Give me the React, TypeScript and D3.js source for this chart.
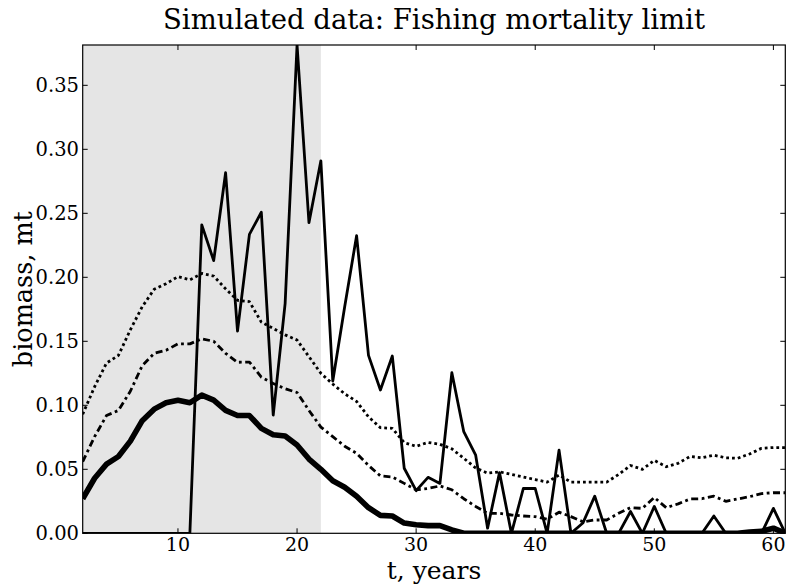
import React from "react";
import * as d3 from "d3";

const years = [2,3,4,5,6,7,8,9,10,11,12,13,14,15,16,17,18,19,20,21,22,23,24,25,26,27,28,29,30,31,32,33,34,35,36,37,38,39,40,41,42,43,44,45,46,47,48,49,50,51,52,53,54,55,56,57,58,59,60,61];

const realization = [0,0,0,0,0,0,0,0,0,0,0.241,0.213,0.2817,0.158,0.2336,0.2508,0.0924,0.1797,0.3815,0.2427,0.291,0.119,0.177,0.2325,0.139,0.112,0.1385,0.0508,0.0333,0.0437,0.039,0.1255,0.0794,0.061,0.004,0.0474,0,0.035,0.035,0,0.065,0,0.008,0.029,0,0,0.017,0,0.021,0,0,0,0,0.0135,0,0,0,0,0.0195,0];

const median = [0.027,0.043,0.054,0.060,0.072,0.088,0.097,0.102,0.104,0.102,0.108,0.104,0.096,0.092,0.092,0.082,0.077,0.076,0.069,0.058,0.050,0.041,0.036,0.029,0.020,0.014,0.0135,0.008,0.0067,0.006,0.006,0.0026,0,0,0,0,0,0,0,0,0,0,0,0,0,0,0,0,0,0,0,0,0,0,0,0,0.001,0.0015,0.004,0];

const upperDashDot = [0.056,0.0755,0.092,0.096,0.111,0.131,0.1406,0.143,0.148,0.148,0.152,0.150,0.1406,0.1336,0.1338,0.122,0.117,0.113,0.110,0.096,0.083,0.0755,0.068,0.0625,0.053,0.0448,0.044,0.039,0.034,0.035,0.037,0.034,0.027,0.021,0.0156,0.0156,0.0143,0.0135,0.013,0.011,0.0165,0.013,0.009,0.0104,0.0104,0.0156,0.020,0.0195,0.028,0.020,0.023,0.0268,0.027,0.029,0.025,0.0268,0.0286,0.031,0.0317,0.0317];

const upperDotted = [0.093,0.1145,0.133,0.139,0.159,0.177,0.1906,0.195,0.2005,0.198,0.203,0.201,0.191,0.182,0.181,0.165,0.160,0.155,0.151,0.138,0.125,0.1166,0.109,0.103,0.091,0.0825,0.082,0.0708,0.068,0.071,0.0695,0.066,0.0586,0.051,0.047,0.048,0.046,0.044,0.042,0.040,0.0455,0.040,0.040,0.040,0.040,0.046,0.053,0.050,0.057,0.052,0.0547,0.060,0.059,0.061,0.059,0.0586,0.062,0.0664,0.067,0.067];

const xTicks = [10, 20, 30, 40, 50, 60];
const yTicks = [0, 0.05, 0.1, 0.15, 0.2, 0.25, 0.3, 0.35];
const shadeRange = [2, 22];
const xDomain = [2, 61];
const yDomain = [0, 0.3815];

const W = 789, H = 584;
const L = 82.7, R = 785.3, T = 45, B = 533.3;
const FONT = "'DejaVu Serif', serif";

export default function App() {
  const x = d3.scaleLinear().domain(xDomain).range([L, R]);
  const y = d3.scaleLinear().domain(yDomain).range([B, T]);
  const line = (vals: number[]) =>
    d3.line<number>().x((_, i) => x(years[i])).y((v) => y(v))(vals) || "";

  const series = [
    { vals: upperDotted, w: 2.8, dash: "2.8 3" },
    { vals: upperDashDot, w: 2.8, dash: "7 3.5 2.8 3.5" },
    { vals: realization, w: 2.8, dash: undefined },
    { vals: median, w: 5.6, dash: undefined },
  ];

  return (
    <svg width={W} height={H} style={{ position: "absolute", left: 0, top: 0, background: "#fff" }}>
      <defs>
        <clipPath id="plotclip">
          <rect x={L} y={T} width={R - L} height={B - T} />
        </clipPath>
      </defs>
      <rect x={x(shadeRange[0])} y={T} width={x(shadeRange[1]) - x(shadeRange[0])} height={B - T} fill="#e5e5e5" />
      <g clipPath="url(#plotclip)" fill="none" stroke="#000" strokeLinejoin="round">
        {series.map((s, i) => (
          <path key={i} d={line(s.vals)} strokeWidth={s.w} strokeDasharray={s.dash} strokeLinecap="butt" />
        ))}
      </g>
      <rect x={L} y={T} width={R - L} height={B - T} fill="none" stroke="#000" strokeWidth={1.2} />
      {xTicks.map((t) => (
        <g key={"x" + t}>
          <line x1={x(t)} x2={x(t)} y1={B} y2={B - 5} stroke="#000" strokeWidth={1} />
          <line x1={x(t)} x2={x(t)} y1={T} y2={T + 5} stroke="#000" strokeWidth={1} />
          <text x={x(t)} y={551} textAnchor="middle" fontFamily={FONT} fontSize={19} fill="#000">{t}</text>
        </g>
      ))}
      {yTicks.map((t) => (
        <g key={"y" + t}>
          <line x1={L} x2={L + 5} y1={y(t)} y2={y(t)} stroke="#000" strokeWidth={1} />
          <line x1={R} x2={R - 5} y1={y(t)} y2={y(t)} stroke="#000" strokeWidth={1} />
          <text x={79} y={y(t)} dy="0.36em" textAnchor="end" fontFamily={FONT} fontSize={19.5} fill="#000">{d3.format(".2f")(t)}</text>
        </g>
      ))}
      <text x={(L + R) / 2} y={29} textAnchor="middle" fontFamily={FONT} fontSize={27.5} fill="#000">Simulated data: Fishing mortality limit</text>
      <text x={(L + R) / 2} y={579} textAnchor="middle" fontFamily={FONT} fontSize={25} fill="#000">t, years</text>
      <text transform={`translate(32, ${(T + B) / 2}) rotate(-90)`} textAnchor="middle" fontFamily={FONT} fontSize={25.5} fill="#000">biomass, mt</text>
    </svg>
  );
}
